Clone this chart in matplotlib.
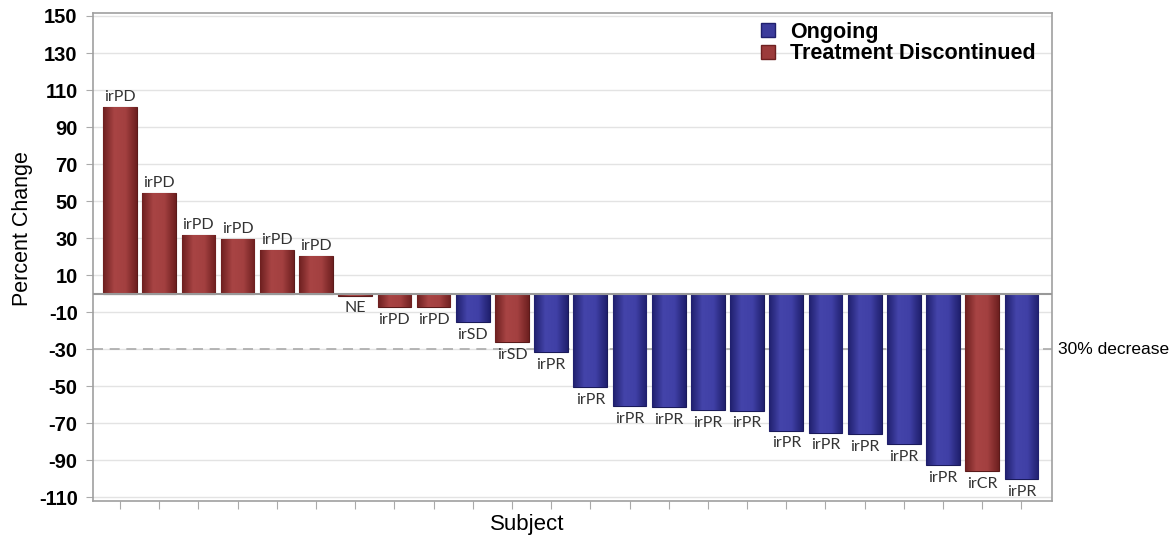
import numpy as np
import matplotlib
matplotlib.use("Agg")
import matplotlib.pyplot as plt
from matplotlib.colors import LinearSegmentedColormap
from matplotlib.lines import Line2D

# ----------------------------------------------------
# DATA
# ----------------------------------------------------
responses = ["irPD", "irPD", "irPD", "irPD", "irPD", "irPD", "NE", "irPD", "irPD",
             "irSD", "irSD", "irPR", "irPR", "irPR", "irPR", "irPR", "irPR", "irPR",
             "irPR", "irPR", "irPR", "irPR", "irCR", "irPR"]
pct_change = [100.8, 54.3, 31.6, 29.4, 23.5, 20.3, -1.0, -7.3, -7.3,
              -15.4, -26.2, -31.6, -50.5, -60.8, -61.4, -63.0, -63.2, -74.0,
              -75.0, -76.0, -81.4, -92.7, -96.0, -100.3]
status = ["D", "D", "D", "D", "D", "D", "D", "D", "D",
          "O", "D", "O", "O", "O", "O", "O", "O", "O",
          "O", "O", "O", "O", "D", "O"]
y_ticks = [150, 130, 110, 90, 70, 50, 30, 10, -10, -30, -50, -70, -90, -110]
threshold = -30

red_cmap = LinearSegmentedColormap.from_list("r", ["#6e2020", "#a84444", "#a34040", "#6e2020"])
blue_cmap = LinearSegmentedColormap.from_list("b", ["#20206e", "#4444aa", "#4040a6", "#20206e"])
colors = {"D": "#9c3b3b", "O": "#3c3c9c"}

# ----------------------------------------------------
# PLOT
# ----------------------------------------------------
fig = plt.figure(figsize=(11.71, 5.36), dpi=100)
ax = fig.add_axes([0.0794, 0.0653, 0.819, 0.9104])

x = np.arange(len(pct_change))
bars = ax.bar(x, pct_change, width=0.86,
              color=[colors[s] for s in status],
              edgecolor=[("#5a1a1a" if s == "D" else "#1a1a5a") for s in status],
              linewidth=0.8, zorder=3)

# horizontal shading inside each bar
grad = np.linspace(0, 1, 64).reshape(1, -1)
for b, s in zip(bars, status):
    x0, y0 = b.get_x(), b.get_y()
    im = ax.imshow(grad, extent=[x0, x0 + b.get_width(), y0, y0 + b.get_height()],
                   aspect="auto", cmap=red_cmap if s == "D" else blue_cmap,
                   origin="lower", zorder=3.5)
    im.set_clip_path(b)

for xi, v, lab in zip(x, pct_change, responses):
    if v >= 0:
        ax.annotate(lab, (xi, v), xytext=(0, 2), textcoords="offset points",
                    ha="center", va="bottom", fontsize=11.5, family="Lato", color="#333333")
    else:
        ax.annotate(lab, (xi, v), xytext=(0, -4), textcoords="offset points",
                    ha="center", va="top", fontsize=11.5, family="Lato", color="#333333")

ax.axhline(0, color="#999999", linewidth=1.5, zorder=4)
ax.axhline(threshold, color="#aaaaaa", linewidth=1.2, linestyle=(0, (6, 4)), zorder=2)
ax.text(1.006, (threshold + 112) / (151.6 + 112), "30% decrease", transform=ax.transAxes,
        ha="left", va="center", fontsize=12.5, family="Liberation Sans")

ax.set_xlim(-0.69, 23.78)
ax.set_ylim(-112, 151.6)
ax.set_aspect("auto")
ax.set_yticks(y_ticks)
ax.set_yticklabels([str(t) for t in y_ticks], fontsize=14.5, fontweight="bold",
                   family="Liberation Sans")
ax.set_xticks(x)
ax.set_xticklabels([])
ax.tick_params(axis="x", direction="out", length=6, color="#aaaaaa")
ax.tick_params(axis="y", direction="out", length=5, color="#aaaaaa", pad=6)
ax.yaxis.grid(True, color="#e3e3e3", linewidth=1, zorder=0)
ax.set_axisbelow(True)
for sp in ax.spines.values():
    sp.set_color("#a0a0a0")
    sp.set_linewidth(1.2)

ax.set_ylabel("Percent Change", fontsize=15.5, family="Liberation Sans", va="center")
ax.yaxis.set_label_coords(-0.074, 0.559)
ax.set_xlabel("Subject", fontsize=16, family="Liberation Sans", va="center")
ax.xaxis.set_label_coords(0.4526, -0.049)

handles = [Line2D([], [], marker="s", linestyle="", markersize=10,
                  markerfacecolor=colors["O"], markeredgecolor="#20206e"),
           Line2D([], [], marker="s", linestyle="", markersize=10,
                  markerfacecolor=colors["D"], markeredgecolor="#6e2020")]
ax.legend(handles, ["Ongoing", "Treatment Discontinued"], loc="upper left",
          bbox_to_anchor=(0.695, 0.982), frameon=False, borderpad=0, borderaxespad=0,
          handlelength=0.8, handletextpad=0.6, labelspacing=0.02,
          prop={"family": "Liberation Sans", "weight": "bold", "size": 15.5})

fig.savefig("out.png", dpi=100)
